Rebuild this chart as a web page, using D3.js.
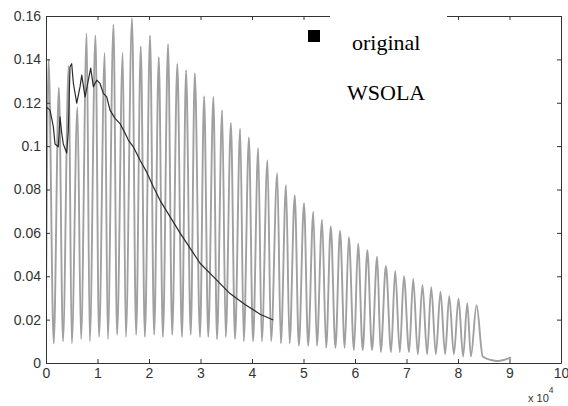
<!DOCTYPE html>
<html>
<head>
<meta charset="utf-8">
<script src="https://cdn.jsdelivr.net/npm/d3@7/dist/d3.min.js"></script>
<style>
  html, body { margin: 0; padding: 0; background: #fff; }
  svg { display: block; }
  .tick text { font-family: "Liberation Sans", Arial, sans-serif; font-size: 14px; fill: #333; }
  .legend text { font-family: "Liberation Serif", "Times New Roman", serif; font-size: 22px; fill: #000; }
</style>
</head>
<body>
<svg id="chart" width="568" height="406"></svg>
<script>
// Sample index in units of 10^4, amplitude in linear units.

// Original signal: opening rise, alternating peaks/troughs, then decay tail.
const originalHeadX = [0.0];
const originalHeadY = [0.027];
const peakX = [0.05, 0.25, 0.44, 0.61, 0.79, 0.96, 1.14, 1.31, 1.49, 1.67, 1.84, 2.02,
  2.19, 2.37, 2.55, 2.72, 2.89, 3.07, 3.25, 3.42, 3.59, 3.77, 3.94, 4.12, 4.30, 4.49,
  4.66, 4.83, 5.01, 5.19, 5.36, 5.53, 5.71, 5.88, 6.06, 6.24, 6.43, 6.60, 6.78, 6.95,
  7.13, 7.31, 7.48, 7.66, 7.83, 8.01, 8.18, 8.36];
const peakY = [0.140, 0.127, 0.137, 0.118, 0.152, 0.151, 0.143, 0.156, 0.143, 0.159,
  0.146, 0.151, 0.141, 0.147, 0.138, 0.135, 0.1336, 0.123, 0.1227, 0.1166, 0.1107,
  0.108, 0.104, 0.099, 0.0935, 0.0875, 0.082, 0.0774, 0.0737, 0.0697, 0.066, 0.063,
  0.061, 0.058, 0.055, 0.052, 0.049, 0.0447, 0.0425, 0.040, 0.0387, 0.036, 0.035,
  0.0329, 0.0309, 0.0296, 0.0276, 0.0267];
const troughX = [0.15, 0.33, 0.50, 0.68, 0.85, 1.03, 1.20, 1.38, 1.55, 1.75, 1.92, 2.10,
  2.27, 2.45, 2.64, 2.81, 2.99, 3.15, 3.32, 3.49, 3.67, 3.84, 4.02, 4.19, 4.37, 4.56,
  4.73, 4.91, 5.09, 5.26, 5.44, 5.62, 5.80, 5.98, 6.15, 6.33, 6.50, 6.70, 6.87, 7.05,
  7.22, 7.40, 7.57, 7.75, 7.92, 8.10, 8.25];
const troughY = [0.009, 0.010, 0.009, 0.011, 0.010, 0.012, 0.011, 0.013, 0.012, 0.013,
  0.012, 0.013, 0.012, 0.013, 0.012, 0.013, 0.012, 0.012, 0.011, 0.012, 0.011, 0.010,
  0.010, 0.010, 0.010, 0.009, 0.009, 0.008, 0.008, 0.008, 0.007, 0.007, 0.007, 0.006,
  0.006, 0.006, 0.005, 0.005, 0.005, 0.005, 0.004, 0.004, 0.004, 0.004, 0.004, 0.003,
  0.003];
const originalTailX = [8.48, 8.64, 8.77, 8.89, 9.03];
const originalTailY = [0.003, 0.0014, 0.0009, 0.0014, 0.0026];

// WSOLA output envelope.
const wsolaX = [0.000, 0.010, 0.078, 0.142, 0.175, 0.239, 0.272, 0.305, 0.336, 0.402,
  0.433, 0.466, 0.499, 0.531, 0.597, 0.661, 0.694, 0.758, 0.822, 0.868, 0.919, 0.985,
  1.049, 1.113, 1.179, 1.243, 1.340, 1.437, 1.534, 1.598, 1.696, 1.826, 1.956, 2.084,
  2.214, 2.408, 2.602, 2.797, 2.991, 3.282, 3.573, 3.864, 4.156, 4.414];
const wsolaY = [0.087, 0.118, 0.1166, 0.109, 0.101, 0.0997, 0.1135, 0.106, 0.101, 0.0968,
  0.107, 0.1366, 0.138, 0.129, 0.1198, 0.1274, 0.1327, 0.1227, 0.1304, 0.136, 0.1274,
  0.1304, 0.1289, 0.1243, 0.1227, 0.1166, 0.1128, 0.1104, 0.106, 0.1028, 0.0997, 0.0935,
  0.0880, 0.0813, 0.075, 0.0675, 0.060, 0.053, 0.046, 0.039, 0.032, 0.027, 0.0225, 0.0198];

const xTicks = [0, 1, 2, 3, 4, 5, 6, 7, 8, 9, 10];
const yTicks = [0, 0.02, 0.04, 0.06, 0.08, 0.1, 0.12, 0.14, 0.16];
const yTickLabels = ["0", "0.02", "0.04", "0.06", "0.08", "0.1", "0.12", "0.14", "0.16"];
const legendLabels = ["original", "WSOLA"];

const svg = d3.select("#chart");
const plot = { left: 46, right: 561, top: 16, bottom: 363 };

const x = d3.scaleLinear().domain([0, 10]).range([plot.left, plot.right]);
const y = d3.scaleLinear().domain([0, 0.16]).range([plot.bottom, plot.top]);

// Assemble the original waveform in sample order.
const original = [];
originalHeadX.forEach((v, i) => original.push([v, originalHeadY[i]]));
peakX.forEach((v, i) => {
  original.push([v, peakY[i]]);
  if (i < troughX.length) original.push([troughX[i], troughY[i]]);
});
originalTailX.forEach((v, i) => original.push([v, originalTailY[i]]));
original.sort((a, b) => a[0] - b[0]);

const wsola = wsolaX.map((v, i) => [v, wsolaY[i]]);

svg.append("defs").append("clipPath").attr("id", "plot-clip")
  .append("rect")
  .attr("x", plot.left).attr("y", plot.top)
  .attr("width", plot.right - plot.left).attr("height", plot.bottom - plot.top);

const g = svg.append("g").attr("clip-path", "url(#plot-clip)");

g.append("path")
  .datum(original)
  .attr("fill", "none")
  .attr("stroke", "#a0a0a0")
  .attr("stroke-width", 1.9)
  .attr("stroke-linejoin", "round")
  .attr("d", d3.line().x(d => x(d[0])).y(d => y(d[1])).curve(d3.curveMonotoneX));

g.append("path")
  .datum(wsola)
  .attr("fill", "none")
  .attr("stroke", "#2a2a2a")
  .attr("stroke-width", 1.2)
  .attr("stroke-linejoin", "round")
  .attr("d", d3.line().x(d => x(d[0])).y(d => y(d[1])).curve(d3.curveLinear));

// Axes with inward ticks on all four sides.
function styleAxis(sel) {
  sel.selectAll("path.domain").attr("stroke", "#333");
  sel.selectAll(".tick line").attr("stroke", "#333");
}

svg.append("g")
  .attr("transform", `translate(0,${plot.bottom})`)
  .call(d3.axisBottom(x).tickValues(xTicks).tickFormat(d3.format("d"))
    .tickSize(-4).tickSizeOuter(0).tickPadding(5))
  .call(styleAxis);

svg.append("g")
  .attr("transform", `translate(0,${plot.top})`)
  .call(d3.axisTop(x).tickValues(xTicks).tickFormat("")
    .tickSize(-4).tickSizeOuter(0))
  .call(styleAxis);

svg.append("g")
  .attr("transform", `translate(${plot.left},0)`)
  .call(d3.axisLeft(y).tickValues(yTicks).tickFormat((d, i) => yTickLabels[i])
    .tickSize(-4).tickSizeOuter(0).tickPadding(5))
  .call(styleAxis);

svg.append("g")
  .attr("transform", `translate(${plot.right},0)`)
  .call(d3.axisRight(y).tickValues(yTicks).tickFormat("")
    .tickSize(-4).tickSizeOuter(0))
  .call(styleAxis);

svg.selectAll(".tick text").attr("font-family", null).attr("font-size", null);

// Exponent label for the x axis.
const expo = svg.append("text")
  .attr("x", 528).attr("y", 402)
  .attr("font-family", "Liberation Sans, Arial, sans-serif")
  .attr("font-size", 11).attr("fill", "#333")
  .text("x 10");
expo.append("tspan").attr("dy", -9).attr("font-size", 8.5).text("4");

// Legend.
const legend = svg.append("g").attr("class", "legend");
legend.append("rect")
  .attr("x", 330).attr("y", 13).attr("width", 117).attr("height", 100)
  .attr("fill", "#fff");
legend.append("rect")
  .attr("x", 308).attr("y", 30).attr("width", 12).attr("height", 12)
  .attr("fill", "#000");
legend.append("text").attr("x", 352).attr("y", 50).text(legendLabels[0]);
legend.append("text").attr("x", 347).attr("y", 100).text(legendLabels[1]);
</script>
</body>
</html>
